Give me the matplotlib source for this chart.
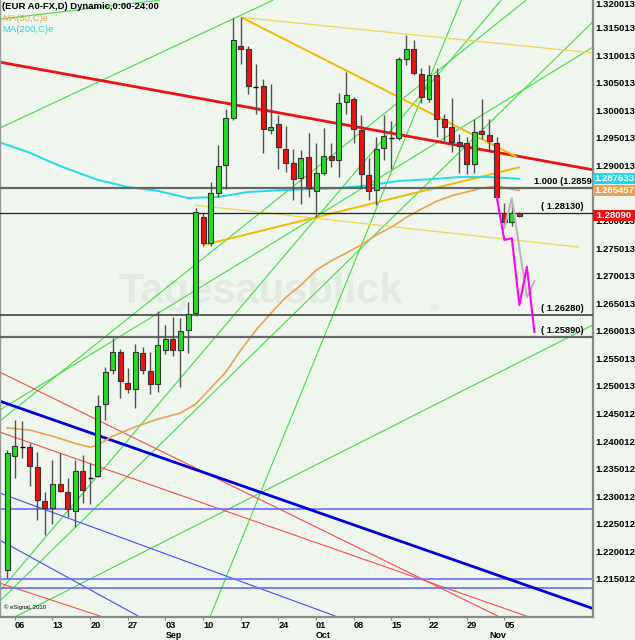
import matplotlib.pyplot as plt
from matplotlib.transforms import blended_transform_factory

plt.rcParams["font.family"] = ["Liberation Sans", "DejaVu Sans"]

# daily candles, index 0 = Fri 03 Aug 2012
opens = [1.2166, 1.2373, 1.2390, 1.2390, 1.2353, 1.2292, 1.2279, 1.2322, 1.2308, 1.2273,
         1.2346, 1.2334, 1.2337, 1.2467, 1.2529, 1.2561, 1.2505, 1.2494, 1.2560, 1.2527,
         1.2503, 1.2565, 1.2585, 1.2566, 1.2601, 1.2632, 1.2807, 1.2759, 1.2850, 1.2901,
         1.2987, 1.3117, 1.3111, 1.3044, 1.3044, 1.2965, 1.2975, 1.2930, 1.2904, 1.2877,
         1.2915, 1.2854, 1.2887, 1.2917, 1.2910, 1.3016, 1.3021, 1.2965, 1.2883, 1.2855,
         1.2932, 1.2951, 1.2949, 1.3093, 1.3112, 1.3066, 1.3020, 1.3064, 1.2984, 1.2970,
         1.2942, 1.2940, 1.2902, 1.2963, 1.2956, 1.2940, 1.2814, 1.2798, 1.2813]
highs = [1.2384, 1.2438, 1.2437, 1.2396, 1.2381, 1.2307, 1.2366, 1.2379, 1.2334, 1.2366,
         1.2375, 1.2360, 1.2484, 1.2535, 1.2587, 1.2567, 1.2533, 1.2577, 1.2571, 1.2561,
         1.2636, 1.2610, 1.2626, 1.2623, 1.2652, 1.2822, 1.2813, 1.2870, 1.2937, 1.3002,
         1.3167, 1.3170, 1.3117, 1.3085, 1.3057, 1.3047, 1.2991, 1.2971, 1.2930, 1.2928,
         1.2959, 1.2940, 1.2968, 1.2940, 1.3032, 1.3070, 1.3025, 1.2991, 1.2914, 1.2951,
         1.2991, 1.2981, 1.3097, 1.3137, 1.3127, 1.3076, 1.3082, 1.3076, 1.2993, 1.3023,
         1.2958, 1.2952, 1.2984, 1.3020, 1.2984, 1.2952, 1.2832, 1.2828, 1.2816]
lows = [1.2152, 1.2334, 1.2369, 1.2318, 1.2257, 1.2229, 1.2250, 1.2308, 1.2263, 1.2245,
        1.2287, 1.2286, 1.2335, 1.2438, 1.2522, 1.2479, 1.2488, 1.2461, 1.2522, 1.2485,
        1.2489, 1.2558, 1.2555, 1.2499, 1.2560, 1.2627, 1.2754, 1.2754, 1.2843, 1.2858,
        1.2982, 1.3084, 1.3029, 1.2994, 1.2922, 1.2957, 1.2893, 1.2889, 1.2837, 1.2831,
        1.2843, 1.2806, 1.2883, 1.2898, 1.2879, 1.2994, 1.2940, 1.2861, 1.2837, 1.2829,
        1.2910, 1.2893, 1.2946, 1.3083, 1.3064, 1.3013, 1.3016, 1.2952, 1.2940, 1.2925,
        1.2886, 1.2884, 1.2887, 1.2948, 1.2926, 1.2840, 1.2790, 1.2790, 1.2806]
closes = [1.2379, 1.2391, 1.2390, 1.2355, 1.2294, 1.2279, 1.2322, 1.2309, 1.2276, 1.2346,
          1.2312, 1.2334, 1.2464, 1.2526, 1.2561, 1.2509, 1.2494, 1.2561, 1.2529, 1.2503,
          1.2575, 1.2586, 1.2565, 1.2600, 1.2630, 1.2816, 1.2759, 1.2851, 1.2899, 1.2987,
          1.3127, 1.3112, 1.3044, 1.3043, 1.2967, 1.2970, 1.2933, 1.2905, 1.2875, 1.2913,
          1.2860, 1.2887, 1.2917, 1.2910, 1.3014, 1.3028, 1.2967, 1.2884, 1.2854, 1.2930,
          1.2953, 1.2950, 1.3094, 1.3112, 1.3068, 1.3024, 1.3064, 1.2985, 1.2970, 1.2943,
          1.2936, 1.2902, 1.2961, 1.2958, 1.2944, 1.2843, 1.2798, 1.2813, 1.2809]

ma50_days = [0, 3, 6, 9, 11, 12, 14, 17, 20, 23, 25, 27, 29, 31, 33, 35, 37, 39, 41, 43,
             45, 47, 49, 51, 53, 55, 57, 59, 61, 63, 65, 67, 68]
ma50 = [1.2424, 1.2420, 1.2409, 1.2396, 1.2389, 1.2393, 1.2409, 1.2426, 1.2440, 1.2451,
        1.2467, 1.2496, 1.2525, 1.2565, 1.2601, 1.2632, 1.2661, 1.2683, 1.2710, 1.2727,
        1.2741, 1.2756, 1.2774, 1.2788, 1.2806, 1.2821, 1.2835, 1.2845, 1.2852, 1.2859,
        1.2863, 1.2857, 1.2855]
ma200_days = [-1, 3, 7, 12, 16, 20, 24, 28, 32, 36, 40, 44, 48, 52, 56, 60, 64, 68]
ma200 = [1.2942, 1.2923, 1.2899, 1.2874, 1.2861, 1.2854, 1.2841, 1.2843, 1.2852, 1.2855,
         1.2857, 1.2859, 1.2864, 1.2872, 1.2875, 1.2879, 1.2879, 1.2876]

proj_magenta_days = [65, 66, 67, 68, 69, 70]
proj_magenta = [1.2843, 1.2765, 1.2768, 1.2647, 1.2716, 1.2598]
proj_gray_days = [66, 67, 69, 70]
proj_gray = [1.2786, 1.2841, 1.2661, 1.2690]

# trend lines as (day, price, day, price)
red_thick = [(-1, 1.30875, 78, 1.28916)]
blue_thick = [(-1, 1.24726, 78, 1.20953)]
red_thin = [(-1, 1.25252, 65.4, 1.2081), (-1, 1.24164, 72.0, 1.2068), (-1, 1.21425, 12.7, 1.2081)]
blue_thin = [(-1, 1.23058, 43.9, 1.2081), (-1, 1.22205, 17.6, 1.2081)]
green_thin = [(-1, 1.31655, 20.3, 1.3200), (-1, 1.29678, 35.3, 1.3200),
              (-1, 1.24563, 78, 1.31166), (1.0, 1.2081, 78, 1.26123),
              (-1, 1.21280, 65.6, 1.3200), (-1, 1.24364, 68.9, 1.3200),
              (-1, 1.21098, 78, 1.31637), (26.9, 1.2081, 60.3, 1.3200)]
gold_thick = [(31.1, 1.31686, 67.7, 1.29152), (26.0, 1.27556, 68.1, 1.28971)]
yellow_thin = [(31.1, 1.31686, 78, 1.31039), (24.9, 1.28282, 75.9, 1.27520)]
blue_levels = [1.22767, 1.21507, 1.21334]

fib_levels = [1.2859, 1.2813, 1.2628, 1.2589]
fib_texts = ["1.000 (1.2859", "( 1.28130)", "( 1.26280)", "( 1.25890)"]
fib_colors = ["#666666", "#222222", "#444444", "#666666"]
fib_widths = [1.6, 0.9, 1.2, 1.6]

monday_days = [1, 6, 11, 16, 21, 26, 31, 36, 41, 46, 51, 56, 61, 66]
monday_labels = ["06", "13", "20", "27", "03", "10", "17", "24", "01", "08", "15", "22", "29", "05"]
month_days = [21, 41, 64]
month_labels = ["Sep", "Oct", "Nov"]

yticks = [1.215012, 1.220012, 1.225012, 1.230012, 1.235012, 1.240012, 1.245012,
          1.250013, 1.255013, 1.260013, 1.265013, 1.270013, 1.275013, 1.280013,
          1.285013, 1.290013, 1.295013, 1.300013, 1.305013, 1.310013, 1.315013, 1.320013]

bg = "#eef6ee"
fig = plt.figure(figsize=(6.35, 6.4), dpi=100, facecolor=bg)
ax = fig.add_axes([0, 23 / 640, 593 / 635, 617 / 640], facecolor=bg)
ax.set_xlim(-0.97, 77.78)
ax.set_ylim(1.2081, 1.32002)


def draw_lines(segs, color, lw, z=2):
    for d0, p0, d1, p1 in segs:
        ax.plot([d0, d1], [p0, p1], color=color, lw=lw, zorder=z, solid_capstyle="butt")


draw_lines(green_thin, "#44dd44", 0.8)
draw_lines(red_thin, "#ff4a4a", 0.8)
draw_lines(blue_thin, "#4a4aff", 0.8)
draw_lines(yellow_thin, "#f2d455", 0.9)
for lv in blue_levels:
    ax.axhline(lv, color="#6a6aff", lw=1.2, zorder=2)
draw_lines(red_thick, "#ee1111", 2.0)
draw_lines(blue_thick, "#0000dd", 2.0)
draw_lines(gold_thick, "#f5b800", 1.4)

ax.plot(ma50_days, ma50, color="#f0a050", lw=1.2, zorder=2.5)
ax.plot(ma200_days, ma200, color="#22dbe8", lw=1.4, zorder=2.5)

for lv, txt, col, w in zip(fib_levels, fib_texts, fib_colors, fib_widths):
    ax.axhline(lv, color=col, lw=w, zorder=2.6)
    ax.annotate(txt, xy=(1.0, lv), xycoords=("axes fraction", "data"),
                xytext=(-7 if txt.startswith("(") else -1, 1.5), textcoords="offset points",
                ha="right", va="bottom", fontsize=6.7, fontweight="bold", color="black")

# candles
days = list(range(len(opens)))
for d, o, h, l, c in zip(days, opens, highs, lows, closes):
    ax.vlines(d, l, h, color="#505050", lw=1.0, zorder=3)
    if abs(c - o) < 0.00025:
        ax.hlines(c, d - 0.35, d + 0.35, color="black", lw=1.0, zorder=4)
    else:
        ax.bar(d, abs(c - o), bottom=min(o, c), width=0.66,
               color="#22dd22" if c > o else "#ee1111",
               edgecolor="#333333", linewidth=0.8, zorder=4)

ax.plot(proj_gray_days, proj_gray, color="#b8b8b8", lw=1.5, zorder=5)
ax.plot(proj_magenta_days, proj_magenta, color="#ff00ff", lw=1.5, zorder=5)

# watermark
ax.text(0.44, 0.527, "Tagesausblick", transform=ax.transAxes, ha="center", va="center",
        fontsize=30, fontweight="bold", color="#e2eae2", zorder=1.5)
ax.text(0.722, 0.503, "de", transform=ax.transAxes, ha="left", va="center",
        fontsize=7, fontweight="bold", color="#e2eae2", zorder=1.5)

ax.text(0.003, 0.997, "(EUR A0-FX,D) Dynamic,0:00-24:00", transform=ax.transAxes,
        ha="left", va="top", fontsize=6.8, fontweight="bold", color="black", zorder=6)
ax.text(0.003, 0.978, "MA(50,C)e", transform=ax.transAxes, ha="left", va="top",
        fontsize=6.8, color="#f0a050", zorder=6)
ax.text(0.003, 0.959, "MA(200,C)e", transform=ax.transAxes, ha="left", va="top",
        fontsize=6.8, color="#22d8e8", zorder=6)
ax.text(0.006, 0.012, "\u00a9 eSignal, 2010", transform=ax.transAxes, ha="left", va="bottom",
        fontsize=4.2, color="black", zorder=6)

# axes
ax.yaxis.tick_right()
ax.set_yticks(yticks)
ax.set_yticklabels(["" if abs(v - 1.285013) < 1e-6 else f"{v:.6f}" for v in yticks])
ax.tick_params(axis="y", length=0, pad=2, labelsize=6.8)
for lbl in ax.get_yticklabels():
    lbl.set_fontweight("bold")
ax.get_yticklabels()[-1].set_va("top")

ax.set_xticks(monday_days)
ax.set_xticklabels(monday_labels)
ax.tick_params(axis="x", length=2.5, pad=0.5, labelsize=6.6, color="#888888")
for lbl in ax.get_xticklabels():
    lbl.set_fontweight("bold")
    lbl.set_ha("left")

trans = blended_transform_factory(ax.transData, fig.transFigure)
for d, m in zip(month_days, month_labels):
    ax.text(d, 0.0, m, transform=trans, ha="left", va="bottom",
            fontsize=6.4, fontweight="bold")

# last value tags
btrans = blended_transform_factory(ax.transAxes, ax.transData)
tags = [(ma200[-1] + 0.000033, "1.287633", "#22dbe8"),
        (ma50[-1] + 0.000007, "1.285457", "#f0a050"),
        (closes[-1], " 1.28090 ", "#ee1111")]
for val, txt, col in tags:
    ax.text(1.002, val, txt, transform=btrans,
            ha="left", va="center", fontsize=6.8, fontweight="bold", color="white",
            bbox=dict(boxstyle="square,pad=0.12", fc=col, ec="none"), zorder=7, clip_on=False)

ax.spines["top"].set_visible(False)
ax.spines["right"].set_color("#888888")
ax.spines["right"].set_linewidth(1.6)
ax.spines["bottom"].set_color("#888888")
ax.spines["bottom"].set_linewidth(1.6)
ax.spines["left"].set_color("#999999")
ax.spines["left"].set_linewidth(1.0)

fig.savefig("out.png", dpi=100, facecolor=bg)
